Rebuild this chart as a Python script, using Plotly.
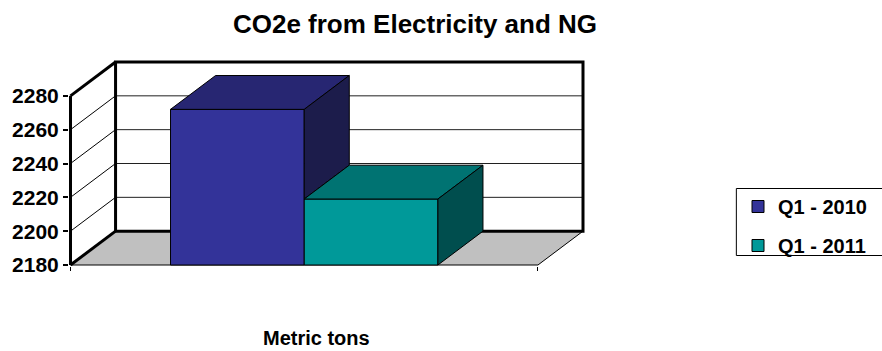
import plotly.graph_objects as go

# ---- data -------------------------------------------------------------
title_text = "CO2e from Electricity and NG"
category_label = "Metric tons"
series_names = ["Q1 - 2010", "Q1 - 2011"]
series_values = [2272, 2219]
y_ticks = [2180, 2200, 2220, 2240, 2260, 2280]

# ---- styling ----------------------------------------------------------
front_colors = ["#333399", "#009999"]
top_colors = ["#272672", "#007372"]
side_colors = ["#1c1c4b", "#004e4e"]
floor_color = "#c0c0c0"
FONT = "Liberation Sans, Arial, sans-serif"

# pseudo-3D box geometry
floor_val = y_ticks[0]
depth_y = y_ticks[1] - y_ticks[0]          # box depth in value units
wall_top = y_ticks[-1] + depth_y           # top edge of the back wall
depth_x = 0.0964                           # box depth in category-slot units
bargap = 0.428

n = len(series_values)
bar_w = (1 - bargap) / n
x_start = -bar_w * n / 2

# plot area in pixels (small padding keeps heavy frame lines unclipped)
W, H = 882, 351
px_per_x = 468.0
px_per_y = 1.692
pl, pr, pt, pb = 1.5, 3.0, 3.0, 1.0
area_l, area_r = 70 - pl, 583 + pr
area_t, area_b = 62 - pt, 265 + pb


def paper_x(px):
    return (px - area_l) / (area_r - area_l)


def paper_y(py):
    return (area_b - py) / (area_b - area_t)


fig = go.Figure()

# front faces of the columns
for i, (name, v) in enumerate(zip(series_names, series_values)):
    fig.add_trace(go.Bar(
        x=[0], y=[v - floor_val], base=[floor_val],
        width=[bar_w], offset=[x_start + i * bar_w],
        name=name, legendgroup=name,
        marker=dict(color=front_colors[i], line=dict(color="black", width=1)),
        hoverinfo="skip",
    ))

# top and side faces
for i, (name, v) in enumerate(zip(series_names, series_values)):
    x0 = x_start + i * bar_w
    x1 = x0 + bar_w
    fig.add_trace(go.Scatter(
        x=[x0, x1, x1 + depth_x, x0 + depth_x, x0],
        y=[v, v, v + depth_y, v + depth_y, v],
        mode="lines", fill="toself", fillcolor=top_colors[i],
        line=dict(color="black", width=1),
        showlegend=False, legendgroup=name, hoverinfo="skip",
    ))
    # the part of the side face hidden behind the next column is not drawn
    lo = floor_val
    if i + 1 < n:
        lo = max(floor_val, min(series_values[i + 1], v))
    fig.add_trace(go.Scatter(
        x=[x1, x1, x1 + depth_x, x1 + depth_x, x1],
        y=[lo, v, v + depth_y, lo + depth_y, lo],
        mode="lines", fill="toself", fillcolor=side_colors[i],
        line=dict(color="black", width=1),
        showlegend=False, legendgroup=name, hoverinfo="skip",
    ))

# ---- walls and floor --------------------------------------------------
shapes = []
xl, xr = -0.5, 0.5
# floor
shapes.append(dict(
    type="path", layer="below", line=dict(width=0), fillcolor=floor_color,
    path=f"M {xl},{floor_val} L {xr},{floor_val} L {xr + depth_x},{floor_val + depth_y} "
         f"L {xl + depth_x},{floor_val + depth_y} Z",
))
# back wall gridlines
for t in y_ticks[1:-1]:
    shapes.append(dict(type="line", layer="below",
                       x0=xl + depth_x, x1=xr + depth_x, y0=t + depth_y, y1=t + depth_y,
                       line=dict(color="#202020", width=1)))
# side wall gridlines
for t in y_ticks[1:-1]:
    shapes.append(dict(type="line", layer="below",
                       x0=xl, x1=xl + depth_x, y0=t, y1=t + depth_y,
                       line=dict(color="black", width=1)))
# back wall frame
shapes.append(dict(type="rect", layer="below",
                   x0=xl + depth_x, x1=xr + depth_x, y0=floor_val + depth_y, y1=wall_top,
                   line=dict(color="black", width=3), fillcolor="rgba(0,0,0,0)"))
# heavy edges of the side wall and the value axis
for (ax0, ay0, ax1, ay1) in [
    (xl, floor_val, xl + depth_x, floor_val + depth_y),
    (xl, y_ticks[-1], xl + depth_x, wall_top),
    (xl, floor_val, xl, y_ticks[-1]),
]:
    shapes.append(dict(type="line", layer="below", x0=ax0, y0=ay0, x1=ax1, y1=ay1,
                       line=dict(color="black", width=3)))
# front and right floor edges
shapes.append(dict(type="line", layer="below", x0=xl, x1=xr, y0=floor_val, y1=floor_val,
                   line=dict(color="black", width=1)))
shapes.append(dict(type="line", layer="below", x0=xr, x1=xr + depth_x,
                   y0=floor_val, y1=floor_val + depth_y,
                   line=dict(color="black", width=1)))
# legend frame
shapes.append(dict(type="rect", xref="paper", yref="paper",
                   x0=paper_x(736.5), x1=paper_x(884), y0=paper_y(255.5), y1=paper_y(188.5),
                   line=dict(color="black", width=1), fillcolor="rgba(0,0,0,0)"))

fig.update_layout(
    width=W, height=H,
    margin=dict(l=area_l, r=W - area_r, t=area_t, b=H - area_b, pad=0),
    paper_bgcolor="white", plot_bgcolor="white",
    barmode="overlay",
    shapes=shapes,
    font=dict(family=FONT, color="black"),
    title=dict(text=title_text, x=415 / W, xref="container", xanchor="center",
               y=1 - 24 / H, yref="container", yanchor="middle",
               font=dict(family=FONT, size=26, weight="bold", color="black")),
    xaxis=dict(range=[xl - pl / px_per_x, xr + depth_x + pr / px_per_x], showgrid=False,
               zeroline=False, showline=False, tickvals=[xl, xr], ticks="outside",
               ticklen=4, tickwidth=1, tickcolor="black", showticklabels=False),
    yaxis=dict(range=[floor_val - pb / px_per_y, wall_top + pt / px_per_y], showgrid=False,
               zeroline=False, showline=False, tickvals=y_ticks, ticks="outside",
               ticklen=5, tickwidth=2, tickcolor="black",
               tickfont=dict(family=FONT, size=21, weight="bold", color="black")),
    legend=dict(x=738 / W, xref="container", xanchor="left",
                y=1 - 187 / H, yref="container", yanchor="top",
                borderwidth=0, bgcolor="rgba(0,0,0,0)",
                traceorder="grouped", tracegroupgap=10,
                font=dict(family=FONT, size=20, weight="bold", color="black")),
    annotations=[dict(text=category_label, xref="paper", yref="paper",
                      x=paper_x(316), y=paper_y(338),
                      xanchor="center", yanchor="middle", showarrow=False,
                      font=dict(family=FONT, size=20, weight="bold", color="black"))],
)

fig.write_html("out.html")
